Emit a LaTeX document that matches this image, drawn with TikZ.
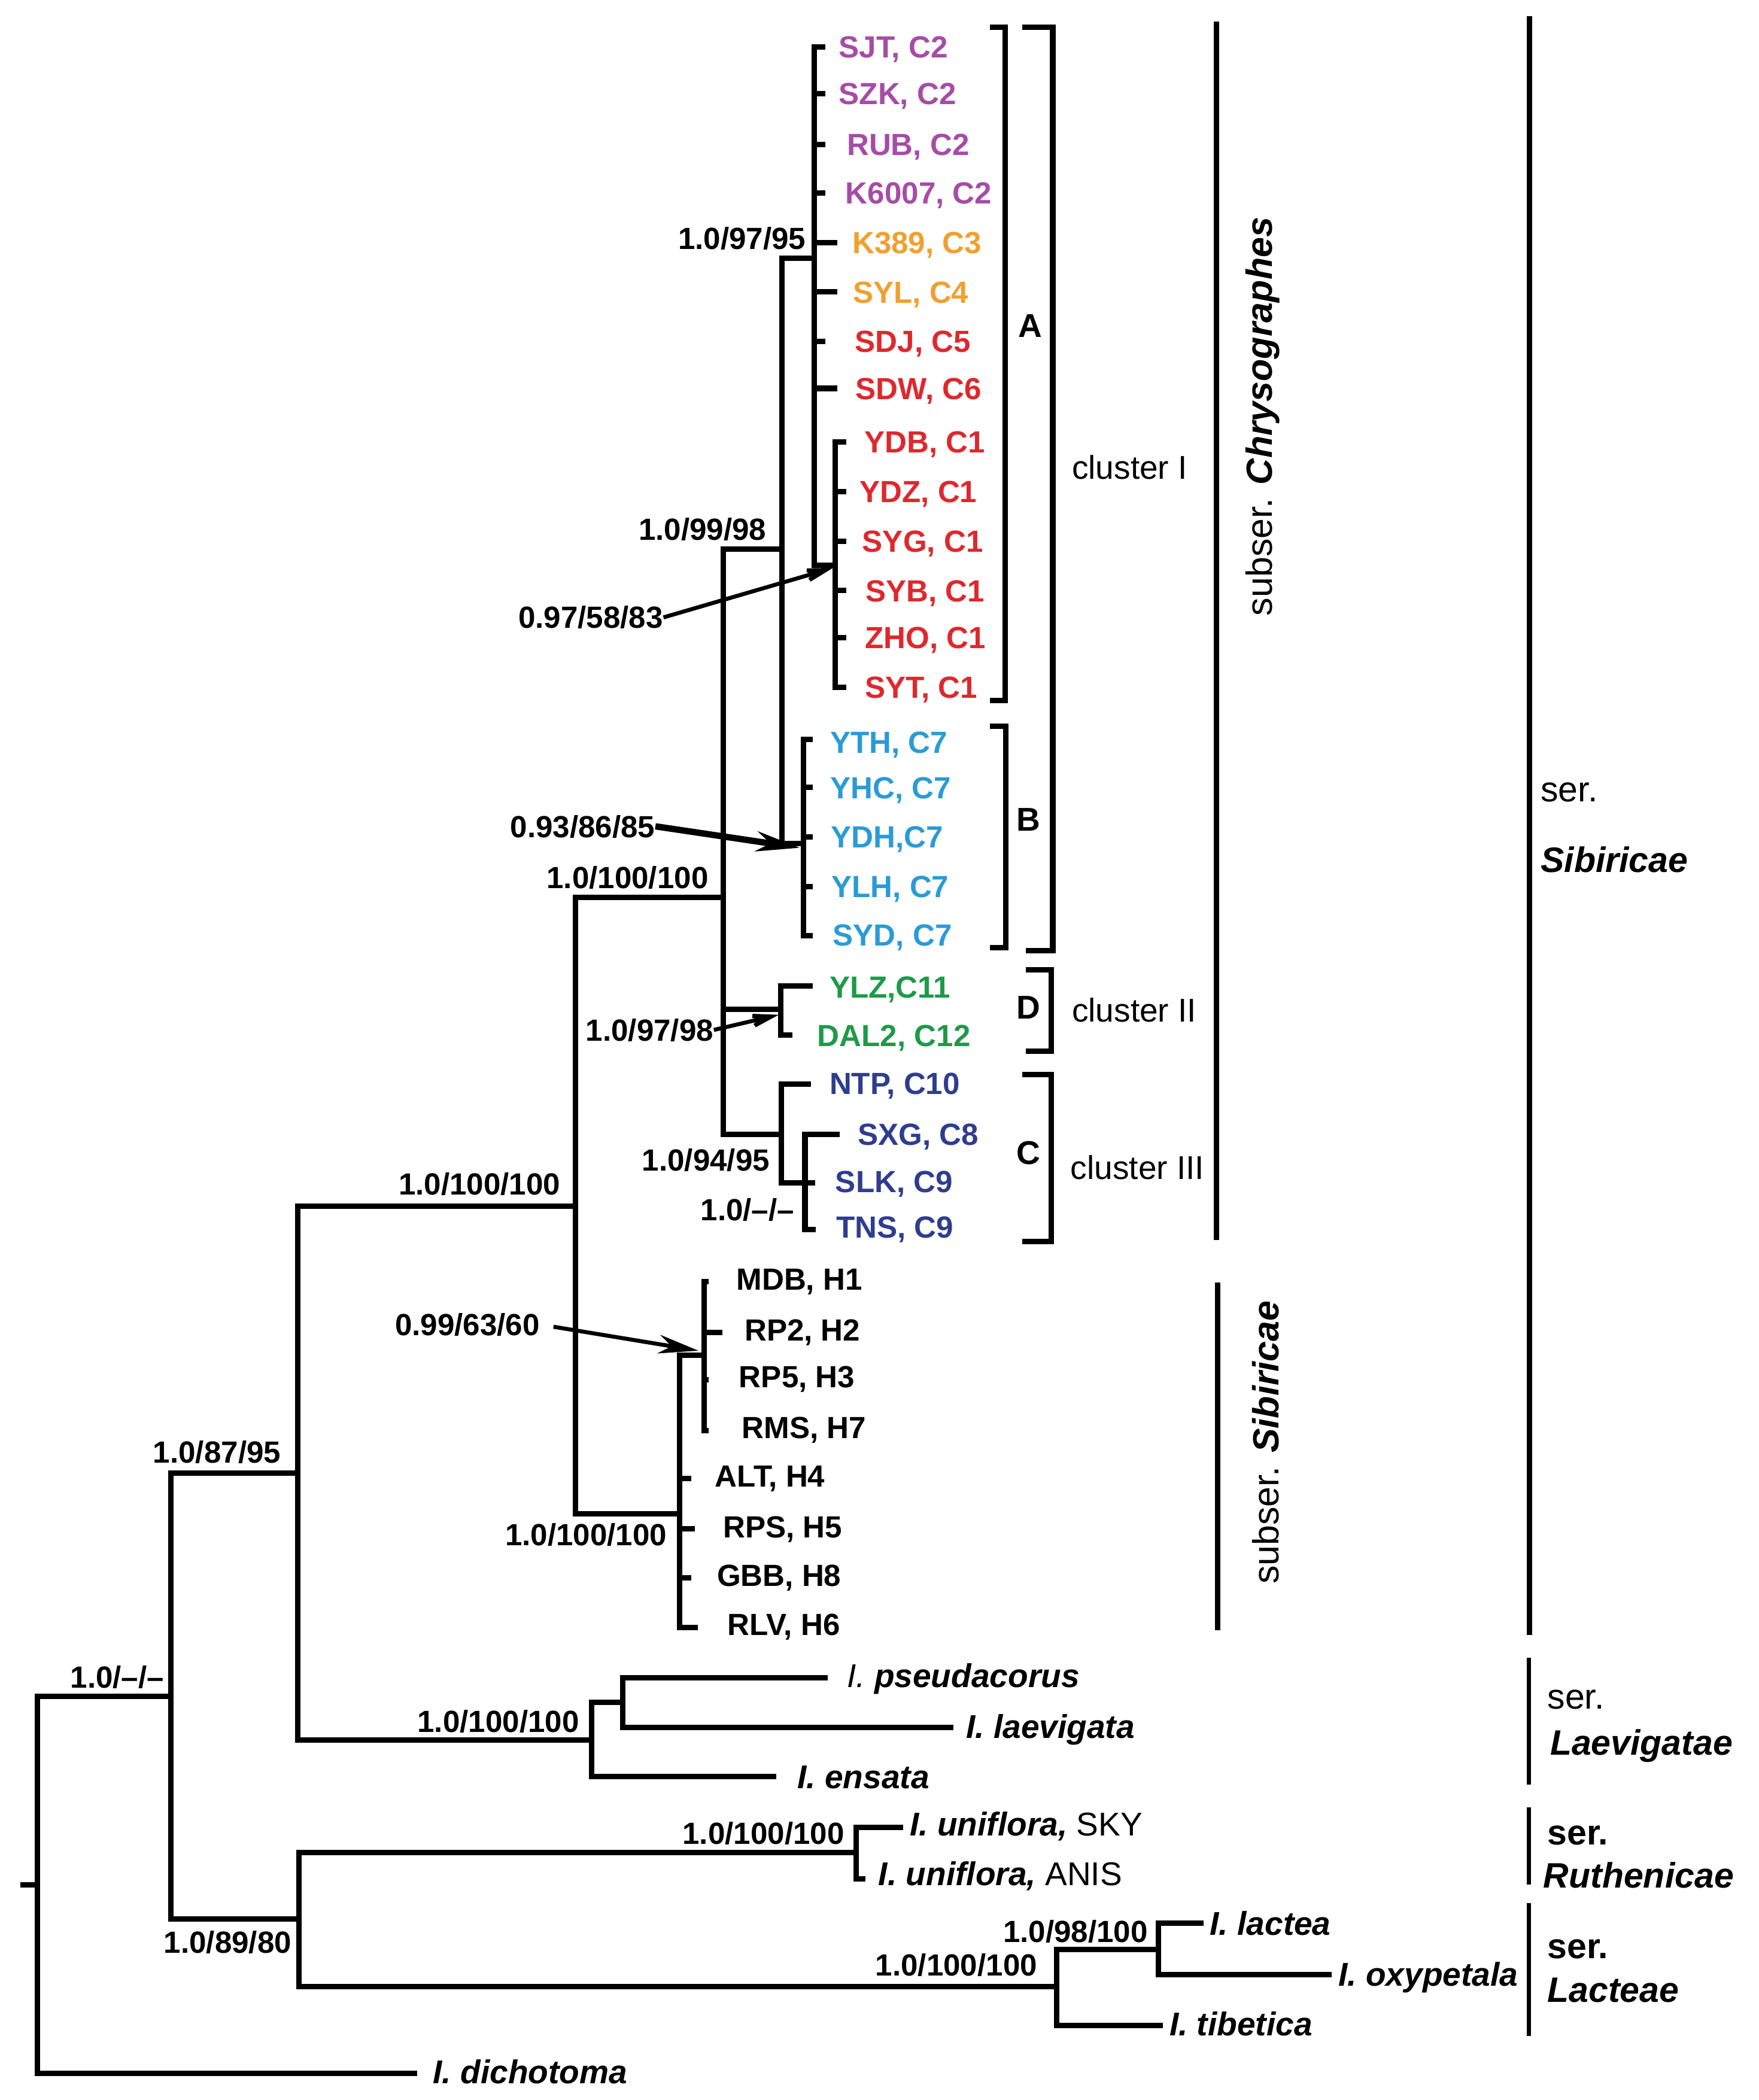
\documentclass[tikz,border=0pt]{standalone}
\usepackage{fontspec}
\setmainfont{Liberation Sans}
\setsansfont{Liberation Sans}
\usepackage{xcolor}
\usepackage{tikz}
\usetikzlibrary{arrows.meta}
\definecolor{cpurple}{RGB}{166,76,166}
\definecolor{corange}{RGB}{240,160,48}
\definecolor{cred}{RGB}{222,40,45}
\definecolor{cblue}{RGB}{42,155,214}
\definecolor{cgreen}{RGB}{30,154,72}
\definecolor{cnavy}{RGB}{46,61,143}

\begin{document}
\begin{tikzpicture}[x=0.2mm, y=-0.2mm,
    br/.style={line width=2.3pt},
    tip/.style={anchor=west, inner sep=0pt, font=\fontsize{13}{15}\selectfont\bfseries, text height=9.3pt, text depth=0pt},
    sp/.style={tip, font=\fontsize{14}{16}\selectfont\bfseries\itshape, text height=10pt},
    supp/.style={inner sep=0pt, font=\fontsize{13}{15}\selectfont\bfseries, text height=9.3pt, text depth=0pt},
    grp/.style={inner sep=0pt, font=\fontsize{14}{16}\selectfont\bfseries, text height=10pt, text depth=0pt},
    clu/.style={anchor=west, inner sep=0pt, font=\fontsize{14}{16}\selectfont, text height=10pt, text depth=0pt},
    sertx/.style={anchor=west, inner sep=0pt, font=\fontsize{15}{18}\selectfont, text height=10.7pt, text depth=0pt},
    arr/.style={line width=1.7pt, -{Stealth[length=6mm, width=2.8mm]}},
    barb/.style={line width=1.7pt, -{Stealth[length=7mm, width=3.8mm, inset=4mm]}}]
    \useasboundingbox (0,0) rectangle (1313,1568);

    % Clade A (C2-C6)
    \coordinate (cA) at (608,193);
    \coordinate (sjt-e) at (616,35);   \node[tip,cpurple] (sjt) at (626,35) {SJT, C2};
    \coordinate (szk-e) at (616,70);   \node[tip,cpurple] (szk) at (626,70) {SZK, C2};
    \coordinate (rub-e) at (616,108);  \node[tip,cpurple] (rub) at (632,108) {RUB, C2};
    \coordinate (k6007-e) at (616,144); \node[tip,cpurple] (k6007) at (631,144) {K6007, C2};
    \coordinate (k389-e) at (625,181); \node[tip,corange] (k389) at (636,181) {K389, C3};
    \coordinate (syl-e) at (625,218);  \node[tip,corange] (syl) at (636.5,218) {SYL, C4};
    \coordinate (sdj-e) at (616,255);  \node[tip,cred] (sdj) at (638,255) {SDJ, C5};
    \coordinate (sdw-e) at (625,290);  \node[tip,cred] (sdw) at (638.5,290) {SDW, C6};
    \foreach \t in {sjt,szk,rub,k6007,k389,syl,sdj,sdw}
        \draw[br] (cA) |- (\t-e);

    % C1 subclade
    \coordinate (cC1) at (623.6,422);
    \coordinate (ydb-e) at (632,330);  \node[tip,cred] (ydb) at (645,330) {YDB, C1};
    \coordinate (ydz-e) at (632,367);  \node[tip,cred] (ydz) at (641.5,367) {YDZ, C1};
    \coordinate (syg-e) at (632,404);  \node[tip,cred] (syg) at (643.5,404) {SYG, C1};
    \coordinate (syb-e) at (632,441);  \node[tip,cred] (syb) at (646,441) {SYB, C1};
    \coordinate (zho-e) at (632,476);  \node[tip,cred] (zho) at (645.5,476) {ZHO, C1};
    \coordinate (syt-e) at (632,513);  \node[tip,cred] (syt) at (645.5,513) {SYT, C1};
    \foreach \t in {ydb,ydz,syg,syb,zho,syt}
        \draw[br] (cC1) |- (\t-e);
    \draw[br] (cA) |- (cC1);

    % Clade B (C7)
    \coordinate (cB) at (600,630);
    \coordinate (yth-e) at (607,552);  \node[tip,cblue] (yth) at (619.5,554) {YTH, C7};
    \coordinate (yhc-e) at (607,588);  \node[tip,cblue] (yhc) at (619.5,588) {YHC, C7};
    \coordinate (ydh-e) at (607,625);  \node[tip,cblue] (ydh) at (620,625) {YDH,C7};
    \coordinate (ylh-e) at (607,662);  \node[tip,cblue] (ylh) at (620.5,662) {YLH, C7};
    \coordinate (syd-e) at (607,698.6); \node[tip,cblue] (syd) at (621.5,698) {SYD, C7};
    \foreach \t in {yth,yhc,ydh,ylh,syd}
        \draw[br] (cB) |- (\t-e);

    % A + B
    \coordinate (cAB) at (584,410);
    \draw[br] (cAB) |- (cA);
    \draw[br] (cAB) |- (cB);

    % Clade D (C11, C12)
    \coordinate (cD) at (583,753.6);
    \coordinate (ylz-e) at (607,736);  \node[tip,cgreen] (ylz) at (619,737) {YLZ,C11};
    \coordinate (dal2-e) at (591.5,773); \node[tip,cgreen] (dal2) at (610,773) {DAL2, C12};
    \draw[br] (cD) |- (ylz-e);
    \draw[br] (cD) |- (dal2-e);

    % Clade C (C8-C10)
    \coordinate (cC) at (583.5,847);
    \coordinate (cC89) at (601,883.4);
    \coordinate (ntp-e) at (605.6,809.6); \node[tip,cnavy] (ntp) at (619,809) {NTP, C10};
    \coordinate (sxg-e) at (627,847);  \node[tip,cnavy] (sxg) at (640,847) {SXG, C8};
    \coordinate (slk-e) at (608.5,883.4); \node[tip,cnavy] (slk) at (623.4,882) {SLK, C9};
    \coordinate (tns-e) at (609,918);  \node[tip,cnavy] (tns) at (624,916) {TNS, C9};
    \draw[br] (cC) |- (ntp-e);
    \draw[br] (cC) |- (cC89);
    \draw[br] (cC89) |- (sxg-e);
    \draw[br] (cC89) |- (slk-e);
    \draw[br] (cC89) |- (tns-e);

    % subser. Chrysographes
    \coordinate (cChr) at (540,670);
    \draw[br] (cChr) |- (cAB);
    \draw[br] (cChr) |- (cD);
    \draw[br] (cChr) |- (cC);

    % subser. Sibiricae (H)
    \coordinate (cH) at (507.6,1130.5);
    \coordinate (cH1) at (525.5,1011.8);
    \coordinate (mdb-e) at (529,957);  \node[tip] (mdb) at (549.5,955) {MDB, H1};
    \coordinate (rp2-e) at (539.4,994.8); \node[tip] (rp2) at (555.6,993) {RP2, H2};
    \coordinate (rp5-e) at (529,1030); \node[tip] (rp5) at (551.5,1028) {RP5, H3};
    \coordinate (rms-e) at (529,1068); \node[tip] (rms) at (553.7,1066) {RMS, H7};
    \coordinate (alt-e) at (516,1104); \node[tip] (alt) at (533.5,1102) {ALT, H4};
    \coordinate (rps-e) at (518.6,1141.5); \node[tip] (rps) at (539.6,1140) {RPS, H5};
    \coordinate (gbb-e) at (516,1178); \node[tip] (gbb) at (535,1176) {GBB, H8};
    \coordinate (rlv-e) at (521,1215); \node[tip] (rlv) at (543,1213) {RLV, H6};
    \foreach \t in {mdb,rp2,rp5,rms}
        \draw[br] (cH1) |- (\t-e);
    \foreach \t in {alt,rps,gbb,rlv}
        \draw[br] (cH) |- (\t-e);
    \draw[br] (cH) |- (cH1);

    % ser. Sibiricae
    \coordinate (cSib) at (429.7,900.5);
    \draw[br] (cSib) |- (cChr);
    \draw[br] (cSib) |- (cH);

    % ser. Laevigatae
    \coordinate (cLaev) at (441.8,1299);
    \coordinate (cPL) at (465,1271);
    \coordinate (pse-e) at (618,1252.7); \node[sp] (pse) at (632,1251) {{\mdseries I.} pseudacorus};
    \coordinate (lae-e) at (711.7,1289.7); \node[sp] (lae) at (721,1289) {I. laevigata};
    \coordinate (ens-e) at (579.5,1326.5); \node[sp] (ens) at (595,1326.5) {I. ensata};
    \draw[br] (cPL) |- (pse-e);
    \draw[br] (cPL) |- (lae-e);
    \draw[br] (cLaev) |- (cPL);
    \draw[br] (cLaev) |- (ens-e);

    \coordinate (cSL) at (222.4,1100);
    \draw[br] (cSL) |- (cSib);
    \draw[br] (cSL) |- (cLaev);

    % ser. Ruthenicae and ser. Lacteae
    \coordinate (cRuth) at (639.4,1383);
    \coordinate (sky-e) at (674.4,1364.6); \node[sp] (sky) at (679,1362) {I. uniflora, \upshape\mdseries SKY};
    \coordinate (anis-e) at (646,1402.7); \node[sp] (anis) at (655.6,1399) {I. uniflora, \upshape\mdseries ANIS};
    \draw[br] (cRuth) |- (sky-e);
    \draw[br] (cRuth) |- (anis-e);

    \coordinate (cLact) at (788.8,1483.3);
    \coordinate (cLO) at (864.8,1455.6);
    \coordinate (lac-e) at (898.6,1436); \node[sp] (lac) at (903,1436) {I. lactea};
    \coordinate (oxy-e) at (994.3,1474.2); \node[sp] (oxy) at (999,1474.2) {I. oxypetala};
    \coordinate (tib-e) at (868.2,1512.2); \node[sp] (tib) at (872.8,1511) {I. tibetica};
    \draw[br] (cLO) |- (lac-e);
    \draw[br] (cLO) |- (oxy-e);
    \draw[br] (cLact) |- (cLO);
    \draw[br] (cLact) |- (tib-e);

    \coordinate (cRL) at (223.2,1432.6);
    \draw[br] (cRL) |- (cRuth);
    \draw[br] (cRL) |- (cLact);

    \coordinate (cIng) at (127.4,1266.6);
    \draw[br] (cIng) |- (cSL);
    \draw[br] (cIng) |- (cRL);

    % Root
    \coordinate (root) at (27.8,1407.3);
    \coordinate (rs) at (15,1407.3);
    \coordinate (dic-e) at (311.3,1548); \node[sp] (dic) at (323,1547) {I. dichotoma};
    \draw[br] (rs) -- (root);
    \draw[br] (root) |- (cIng);
    \draw[br] (root) |- (dic-e);

    % Valori di supporto
    \node[supp] (b9795) at (554,178) {1.0/97/95};
    \node[supp] (b9998) at (524.5,395) {1.0/99/98};
    \node[supp] (b975883) at (441,461) {0.97/58/83};
    \node[supp] (b938685) at (435,617) {0.93/86/85};
    \node[supp] (b100chr) at (468.5,655) {1.0/100/100};
    \node[supp] (b9798) at (485,769) {1.0/97/98};
    \node[supp] (b9495) at (527,866) {1.0/94/95};
    \node[supp] (b1c9) at (558,903) {1.0/–/–};
    \node[supp] (b100sib) at (358,884) {1.0/100/100};
    \node[supp] (b996360) at (349,989) {0.99/63/60};
    \node[supp] (b100h) at (437.5,1146) {1.0/100/100};
    \node[supp] (b8795) at (162,1084) {1.0/87/95};
    \node[supp] (b1ing) at (87.5,1252) {1.0/–/–};
    \node[supp] (b100lae) at (372,1285) {1.0/100/100};
    \node[supp] (b100ruth) at (570,1369) {1.0/100/100};
    \node[supp] (b8980) at (170,1450) {1.0/89/80};
    \node[supp] (b100lac) at (714,1467) {1.0/100/100};
    \node[supp] (b98100) at (803,1442) {1.0/98/100};

    % Frecce
    \coordinate (t1) at (622,424);
    \coordinate (t2) at (597,633);
    \coordinate (t3) at (581.5,757.7);
    \coordinate (t4) at (521.5,1008.5);
    \draw[barb] (b975883.east) -- (t1);
    \draw[arr, line width=2.7pt, -{Stealth[length=6.5mm, width=3mm]}] (b938685.east) -- (t2);
    \draw[barb] (b9798.east) -- (t3);
    \draw[arr, shorten <=2mm] (b996360.east) -- (t4);

    % Parentesi dei gruppi
    \draw[br] (739,20.5) -| (750.4,523) -- (739,523);
    \draw[br] (739,542.3) -| (751,707.5) -- (739,707.5);
    \draw[br] (763,20.5) -| (786,710) -- (766,710);
    \draw[br] (766,724) -| (785,785) -- (766,785);
    \draw[br] (763,802.4) -| (785,927) -- (763,927);
    \node[grp] (gA) at (769,243) {A};
    \node[grp] (gB) at (768,611.5) {B};
    \node[grp] (gD) at (768,752) {D};
    \node[grp] (gC) at (768,860.6) {C};
    \node[clu] (clI) at (800,349) {cluster I};
    \node[clu] (clII) at (800,754) {cluster II};
    \node[clu] (clIII) at (799,871.5) {cluster III};

    % Subserie
    \draw[br] (908,16) -- (908,926);
    \draw[br] (909,957.6) -- (909,1217);
    \node[rotate=90, inner sep=0pt, font=\fontsize{15.5}{18}\selectfont, text height=11pt, text depth=0pt] (subchr) at (940,311) {subser. \textbf{\textit{Chrysographes}}};
    \node[rotate=90, inner sep=0pt, font=\fontsize{15.5}{18}\selectfont, text height=11pt, text depth=0pt] (subsib) at (945,1077) {subser. \textbf{\textit{Sibiricae}}};

    % Serie
    \draw[br] (1142,12) -- (1142,1221);
    \draw[line width=1.6pt] (1141.5,1237.8) -- (1141.5,1332.3);
    \draw[line width=1.6pt] (1141.5,1349.6) -- (1141.5,1407.3);
    \draw[line width=1.6pt] (1141.5,1421) -- (1141.5,1520);
    \node[sertx] (sib1) at (1150,589) {ser.};
    \node[sertx] (sib2) at (1150,642) {\bfseries\itshape Sibiricae};
    \node[sertx] (lae1) at (1155,1266.6) {ser.};
    \node[sertx] (lae2) at (1157,1301) {\bfseries\itshape Laevigatae};
    \node[sertx] (rut1) at (1155,1368) {\bfseries ser.};
    \node[sertx] (rut2) at (1152,1400) {\bfseries\itshape Ruthenicae};
    \node[sertx] (lct1) at (1155,1453) {\bfseries ser.};
    \node[sertx] (lct2) at (1155,1485.6) {\bfseries\itshape Lacteae};
\end{tikzpicture}
\end{document}
